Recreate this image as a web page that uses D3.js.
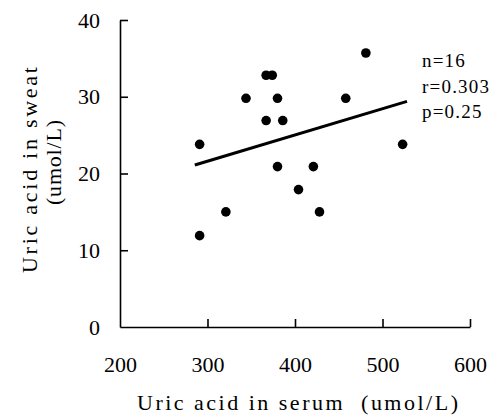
<!DOCTYPE html>
<html>
<head>
<meta charset="utf-8">
<script src="https://cdn.jsdelivr.net/npm/d3@7"></script>
<style>
    body { margin: 0; background: #fff; }
    text { font-family: "Liberation Serif", "Times New Roman", serif; fill: #000; }
</style>
</head>
<body>
<div id="chart"></div>
<script>
// Values
const serum = [291, 291, 321, 344, 367, 374, 380, 367, 386, 380, 421, 404, 428, 458, 481, 523];
const sweat = [23.8, 11.9, 15.0, 29.8, 32.8, 32.8, 29.8, 26.9, 26.9, 20.9, 20.9, 17.9, 15.0, 29.8, 35.7, 23.8];
const fitX = [285.5, 528];
const fitY = [21.1, 29.4];
const xTicks = [200, 300, 400, 500, 600];
const yTicks = [0, 10, 20, 30, 40];
const stats = ["n=16", "r=0.303", "p=0.25"];

const width = 491, height = 416;

const svg = d3.select("#chart")
    .append("svg")
    .attr("width", width)
    .attr("height", height);

const x = d3.scaleLinear().domain([200, 600]).range([120, 470]);
const y = d3.scaleLinear().domain([0, 40]).range([327, 20]);

// Axes, ticks point inward
const xAxis = svg.append("g")
    .attr("transform", `translate(0,${y(0)})`)
    .call(d3.axisBottom(x).tickValues(xTicks).tickSizeInner(-8).tickSizeOuter(0).tickPadding(29));

const yAxis = svg.append("g")
    .attr("transform", `translate(${x(200)},0)`)
    .call(d3.axisLeft(y).tickValues(yTicks).tickSizeInner(-8).tickSizeOuter(0).tickPadding(20));

[xAxis, yAxis].forEach(g => {
    g.select(".domain").attr("stroke", "#000").attr("stroke-width", 1.6);
    g.selectAll(".tick line").attr("stroke", "#000").attr("stroke-width", 1.6);
    g.selectAll(".tick text")
        .style("font-family", '"Liberation Serif", serif')
        .style("font-size", "22px")
        .attr("fill", "#000");
});
// origin ticks sit on the other axis
yAxis.selectAll(".tick").filter(d => d === 0).select("line").remove();
xAxis.selectAll(".tick").filter(d => d === 200).select("line").remove();

// Regression line
svg.append("line")
    .attr("x1", x(fitX[0])).attr("y1", y(fitY[0]))
    .attr("x2", x(fitX[1])).attr("y2", y(fitY[1]))
    .attr("stroke", "#000")
    .attr("stroke-width", 3);

// Points
svg.append("g")
    .selectAll("circle")
    .data(serum)
    .enter()
    .append("circle")
    .attr("cx", d => x(d))
    .attr("cy", (d, i) => y(sweat[i]))
    .attr("r", 4.8)
    .attr("fill", "#000");

// Stats text
svg.append("g")
    .selectAll("text")
    .data(stats)
    .enter()
    .append("text")
    .attr("x", 422)
    .attr("y", (d, i) => 67 + i * 25.5)
    .style("font-size", "19px")
    .style("letter-spacing", "1.2px")
    .text(d => d);

// Axis titles
svg.append("text")
    .attr("x", 137)
    .attr("y", 410)
    .attr("textLength", 321)
    .attr("lengthAdjust", "spacing")
    .style("font-size", "22px")
    .text("Uric acid in serum\u00a0\u00a0(umol/L)");

svg.append("text")
    .attr("transform", "translate(37,273) rotate(-90)")
    .attr("textLength", 206)
    .attr("lengthAdjust", "spacing")
    .style("font-size", "22px")
    .text("Uric acid in sweat");

svg.append("text")
    .attr("transform", "translate(61,205) rotate(-90)")
    .attr("textLength", 85)
    .attr("lengthAdjust", "spacing")
    .style("font-size", "22px")
    .text("(umol/L)");
</script>
</body>
</html>
